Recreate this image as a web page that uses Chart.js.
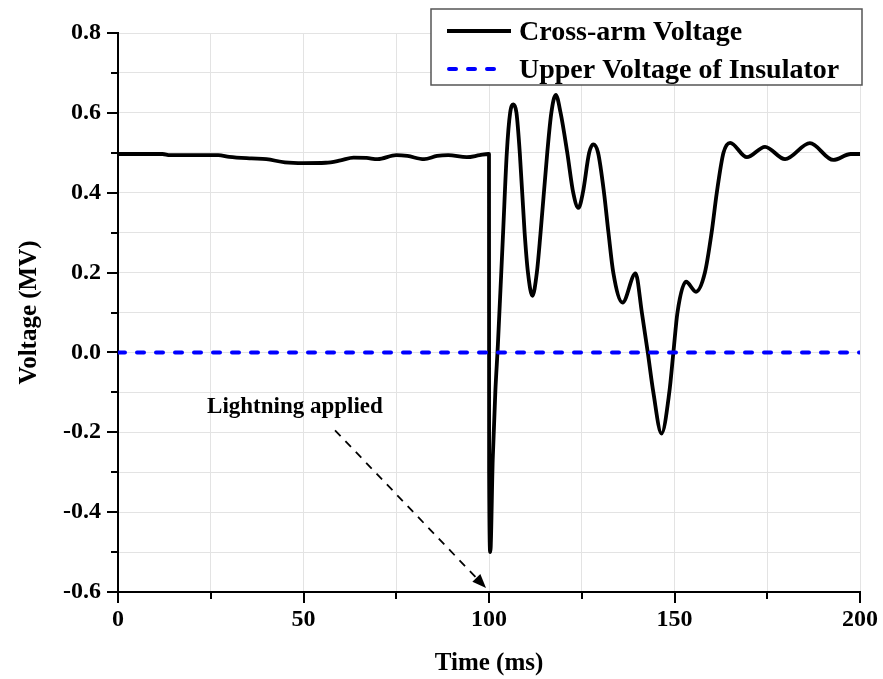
<!DOCTYPE html>
<html>
<head>
<meta charset="utf-8">
<script src="https://cdn.jsdelivr.net/npm/chart.js@4"></script>
<style>
  body { margin: 0; background: #fff; }
  #wrap { width: 883px; height: 679px; }
</style>
</head>
<body>
<div id="wrap"><canvas id="voltChart" width="883" height="679"></canvas></div>
<script>
// cross-arm voltage (MV) against time (ms)
const timeMs = [
  0, 12, 14, 27, 30, 36, 40, 45, 50, 56, 60, 63.5, 67, 70, 75, 78, 82.5, 86, 89, 94, 97.5, 99.8,
  100, 100.03, 100.35, 101.0, 101.7, 102.4, 103.8, 104.8, 105.7, 106.6, 107.4, 108.3, 109.6, 110.5,
  111.7, 112.9, 113.9, 115.7, 116.8, 118, 119.3, 121.1, 122.7, 124.1, 125.3, 127, 128.1, 129.4,
  131, 132.2, 133.5, 136, 139.5, 141.2, 142.8, 144.3, 146.5, 148.6, 149.7, 150.8, 153.1, 155.8,
  158.2, 160, 161.4, 163.2, 165, 169.5, 174.4, 179.8, 186.5, 192.8, 197.5, 200
];
const crossArm = [
  0.497, 0.497, 0.494, 0.494, 0.490, 0.486, 0.484, 0.476, 0.474, 0.475, 0.481, 0.488, 0.487, 0.484, 0.494, 0.492, 0.484, 0.492, 0.494, 0.489, 0.494, 0.497,
  0.497, -0.3, -0.5, -0.27, -0.1, 0.02, 0.3, 0.5, 0.6, 0.621, 0.6, 0.5, 0.3, 0.2,
  0.142, 0.2, 0.3, 0.5, 0.6, 0.645, 0.6, 0.5, 0.4, 0.362, 0.4, 0.5, 0.521, 0.5,
  0.4, 0.3, 0.2, 0.125, 0.198, 0.1, 0, -0.1, -0.203, -0.1, 0, 0.1, 0.177, 0.152,
  0.2, 0.3, 0.4, 0.5, 0.525, 0.489, 0.515, 0.484, 0.524, 0.482, 0.497, 0.497
];
// insulator upper voltage stays at zero
const insulatorTime = [0, 200];
const insulatorVolt = [0, 0];

const xTicks = [0, 50, 100, 150, 200];
const yTicks = [-0.6, -0.4, -0.2, 0.0, 0.2, 0.4, 0.6, 0.8];

const seriesNames = ["Cross-arm Voltage", "Upper Voltage of Insulator"];
const noteText = "Lightning applied";
// arrow: from label to the moment the strike hits
const noteAt = { x: 47.7, y: -0.152 };
const arrowFrom = { x: 58.5, y: -0.195 };
const arrowTo = { x: 99.2, y: -0.59 };

const serif = "'Liberation Serif', 'Times New Roman', serif";

const toPoints = (xs, ys) => xs.map((x, i) => ({ x: x, y: ys[i] }));

// tick marks: long at labelled values, short in between
const tickMarks = {
  id: "tickMarks",
  afterDraw(chart) {
    const ctx = chart.ctx;
    const xs = chart.scales.x, ys = chart.scales.y;
    ctx.save();
    ctx.strokeStyle = "#000";
    ctx.lineWidth = 2;
    ctx.beginPath();
    for (let v = 0; v <= 200; v += 25) {
      const px = Math.round(xs.getPixelForValue(v));
      const len = xTicks.includes(v) ? 11 : 7;
      ctx.moveTo(px, xs.top);
      ctx.lineTo(px, xs.top + len);
    }
    for (let k = -6; k <= 8; k++) {
      const py = Math.round(ys.getPixelForValue(k / 10));
      const len = k % 2 === 0 ? 11 : 7;
      ctx.moveTo(ys.right, py);
      ctx.lineTo(ys.right - len, py);
    }
    ctx.stroke();
    ctx.restore();
  }
};

// boxed legend in the top right corner
const boxLegend = {
  id: "boxLegend",
  afterDraw(chart) {
    const ctx = chart.ctx;
    const sets = chart.data.datasets;
    ctx.save();
    ctx.fillStyle = "#fff";
    ctx.fillRect(431, 9, 431, 76);
    ctx.strokeStyle = "#555";
    ctx.lineWidth = 1.5;
    ctx.strokeRect(431, 9, 431, 76);
    const rows = [31, 69];
    ctx.font = "bold 28px " + serif;
    ctx.textBaseline = "alphabetic";
    ctx.textAlign = "left";
    sets.forEach((ds, i) => {
      const y = rows[i];
      ctx.beginPath();
      ctx.strokeStyle = ds.borderColor;
      ctx.lineWidth = ds.borderWidth;
      ctx.lineCap = ds.borderCapStyle || "butt";
      ctx.setLineDash(ds.borderDash || []);
      if (ds.borderDash) {
        ctx.moveTo(449, y);
        ctx.lineTo(496, y);
      } else {
        ctx.moveTo(447, y);
        ctx.lineTo(511, y);
      }
      ctx.stroke();
      ctx.setLineDash([]);
      ctx.fillStyle = "#000";
      ctx.fillText(ds.label, 519, y + 8.5);
    });
    ctx.restore();
  }
};

// "Lightning applied" note with a dashed arrow
const strikeNote = {
  id: "strikeNote",
  afterDraw(chart) {
    const ctx = chart.ctx;
    const xs = chart.scales.x, ys = chart.scales.y;
    const x1 = xs.getPixelForValue(arrowFrom.x), y1 = ys.getPixelForValue(arrowFrom.y);
    const x2 = xs.getPixelForValue(arrowTo.x), y2 = ys.getPixelForValue(arrowTo.y);
    const ang = Math.atan2(y2 - y1, x2 - x1);
    const head = 14, half = 5.5;
    ctx.save();
    ctx.strokeStyle = "#000";
    ctx.lineWidth = 1.8;
    ctx.setLineDash([8, 7]);
    ctx.beginPath();
    ctx.moveTo(x1, y1);
    ctx.lineTo(x2 - head * Math.cos(ang), y2 - head * Math.sin(ang));
    ctx.stroke();
    ctx.setLineDash([]);
    ctx.fillStyle = "#000";
    ctx.beginPath();
    ctx.moveTo(x2, y2);
    ctx.lineTo(x2 - head * Math.cos(ang) + half * Math.sin(ang), y2 - head * Math.sin(ang) - half * Math.cos(ang));
    ctx.lineTo(x2 - head * Math.cos(ang) - half * Math.sin(ang), y2 - head * Math.sin(ang) + half * Math.cos(ang));
    ctx.closePath();
    ctx.fill();
    ctx.font = "bold 23px " + serif;
    ctx.textAlign = "center";
    ctx.textBaseline = "alphabetic";
    ctx.fillText(noteText, xs.getPixelForValue(noteAt.x), ys.getPixelForValue(noteAt.y));
    ctx.restore();
  }
};

new Chart(document.getElementById("voltChart"), {
  type: "line",
  data: {
    datasets: [{
      label: seriesNames[0],
      data: toPoints(timeMs, crossArm),
      borderColor: "#000",
      borderWidth: 3.8,
      borderJoinStyle: "round",
      cubicInterpolationMode: "monotone",
      pointRadius: 0,
      order: 1
    }, {
      label: seriesNames[1],
      data: toPoints(insulatorTime, insulatorVolt),
      borderColor: "#0000ff",
      borderWidth: 4,
      borderDash: [7, 12],
      borderCapStyle: "round",
      pointRadius: 0,
      order: 0
    }]
  },
  options: {
    responsive: false,
    animation: false,
    layout: { padding: { top: 33, right: 23, left: 0, bottom: 0 } },
    plugins: {
      legend: { display: false },
      tooltip: { enabled: false }
    },
    scales: {
      x: {
        type: "linear",
        min: 0,
        max: 200,
        afterFit: (s) => { s.height = 87; s.paddingLeft = 0; s.paddingRight = 0; },
        grid: { color: "#e3e3e3", lineWidth: 1, drawTicks: false },
        border: { color: "#000", width: 2 },
        ticks: {
          stepSize: 25,
          padding: 13,
          color: "#000",
          font: { family: serif, size: 24, weight: "bold" },
          callback: (v) => xTicks.includes(v) ? String(v) : ""
        },
        title: {
          display: true,
          text: "Time (ms)",
          color: "#000",
          padding: { top: 0, bottom: 0 },
          font: { family: serif, size: 25, weight: "bold" }
        }
      },
      y: {
        min: -0.6,
        max: 0.8,
        afterFit: (s) => { s.width = 118; s.paddingTop = 0; s.paddingBottom = 0; },
        grid: { color: "#e3e3e3", lineWidth: 1, drawTicks: false },
        border: { color: "#000", width: 2 },
        ticks: {
          stepSize: 0.1,
          padding: 17,
          color: "#000",
          font: { family: serif, size: 24, weight: "bold" },
          callback: (v) => {
            const k = Math.round(v * 10);
            return k % 2 === 0 ? (k / 10).toFixed(1) : "";
          }
        },
        title: {
          display: true,
          text: "Voltage (MV)",
          color: "#000",
          padding: { top: 15, bottom: 0 },
          font: { family: serif, size: 25, weight: "bold" }
        }
      }
    }
  },
  plugins: [tickMarks, boxLegend, strikeNote]
});
</script>
</body>
</html>
